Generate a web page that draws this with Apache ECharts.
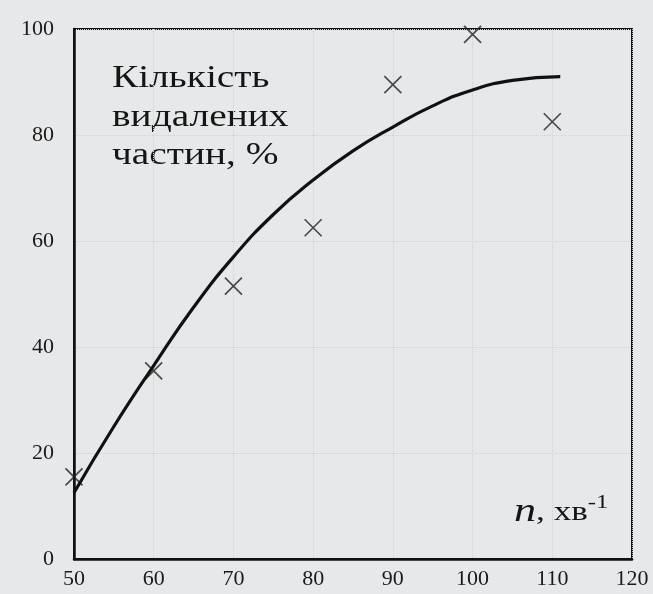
<!DOCTYPE html>
<html>
<head>
<meta charset="utf-8">
<script src="https://cdn.jsdelivr.net/npm/echarts@6/dist/echarts.min.js"></script>
<style>
html,body{margin:0;padding:0;background:#e7e8e9;}
#c{width:653px;height:594px;}
</style>
</head>
<body>
<div id="c"></div>
<script>
const xTicks = [50, 60, 70, 80, 90, 100, 110, 120];
const yTicks = [0, 20, 40, 60, 80, 100];
const pointX = [50, 60, 70, 80, 90, 100, 110];
const pointY = [15.5, 35.5, 51.5, 62.5, 89.5, 99, 82.5];
const curveX = [50, 55, 60, 65, 70, 75, 80, 85, 90, 95, 100, 105, 111];
const curveY = [12.5, 25, 36.5, 47.5, 57, 65, 71.5, 77, 81.5, 85.5, 88.5, 90.3, 91];

const chart = echarts.init(document.getElementById('c'));
const font = '"Liberation Serif", "DejaVu Serif", serif';
chart.setOption({
  backgroundColor: '#e7e8e9',
  animation: false,
  grid: {left: 74, right: 21, top: 29, bottom: 35, show: true, borderColor: '#111', borderWidth: 2, backgroundColor: 'transparent'},
  xAxis: {
    type: 'value', min: xTicks[0], max: xTicks[xTicks.length - 1], interval: 10,
    axisLine: {show: true, lineStyle: {color: '#111', width: 2.5}},
    axisTick: {show: false},
    splitLine: {show: true, lineStyle: {color: '#cfd1d2', type: 'dotted', width: 1}},
    axisLabel: {color: '#1a1a1a', fontFamily: font, fontSize: 22, margin: 9}
  },
  yAxis: {
    type: 'value', min: yTicks[0], max: yTicks[yTicks.length - 1], interval: 20,
    axisLine: {show: true, lineStyle: {color: '#111', width: 2.5}},
    axisTick: {show: false},
    splitLine: {show: true, lineStyle: {color: '#cfd1d2', type: 'dotted', width: 1}},
    axisLabel: {color: '#1a1a1a', fontFamily: font, fontSize: 22, margin: 20}
  },
  series: [
    {
      type: 'line', smooth: true, showSymbol: false,
      data: curveX.map((x, i) => [x, curveY[i]]),
      lineStyle: {color: '#111', width: 3.2}
    },
    {
      type: 'scatter',
      data: pointX.map((x, i) => [x, pointY[i]]),
      symbol: 'path://M0,0L10,10M10,0L0,10',
      symbolSize: 17,
      itemStyle: {color: 'none', borderColor: '#222', borderWidth: 1.7}
    }
  ],
  graphic: [
    {type: 'text', x: 112, y: 60, scaleX: 1.27, style: {x: 0, y: 0, text: 'Кількість\nвидалених\nчастин, %', font: '31px ' + font, fill: '#151515', lineHeight: 38.5, verticalAlign: 'top'}},
    {type: 'text', x: 514, y: 494, scaleX: 1.3, style: {x: 0, y: 0, verticalAlign: 'top', rich: {n: {font: 'italic 34px ' + font, fill: '#151515'}, t: {font: '27px ' + font, fill: '#151515'}, s: {font: '19px ' + font, fill: '#151515', verticalAlign: 'top', padding: [0,0,18,0]}}, text: '{n|n}{t|, хв}{s|-1}'}}
  ]
});
</script>
</body>
</html>
